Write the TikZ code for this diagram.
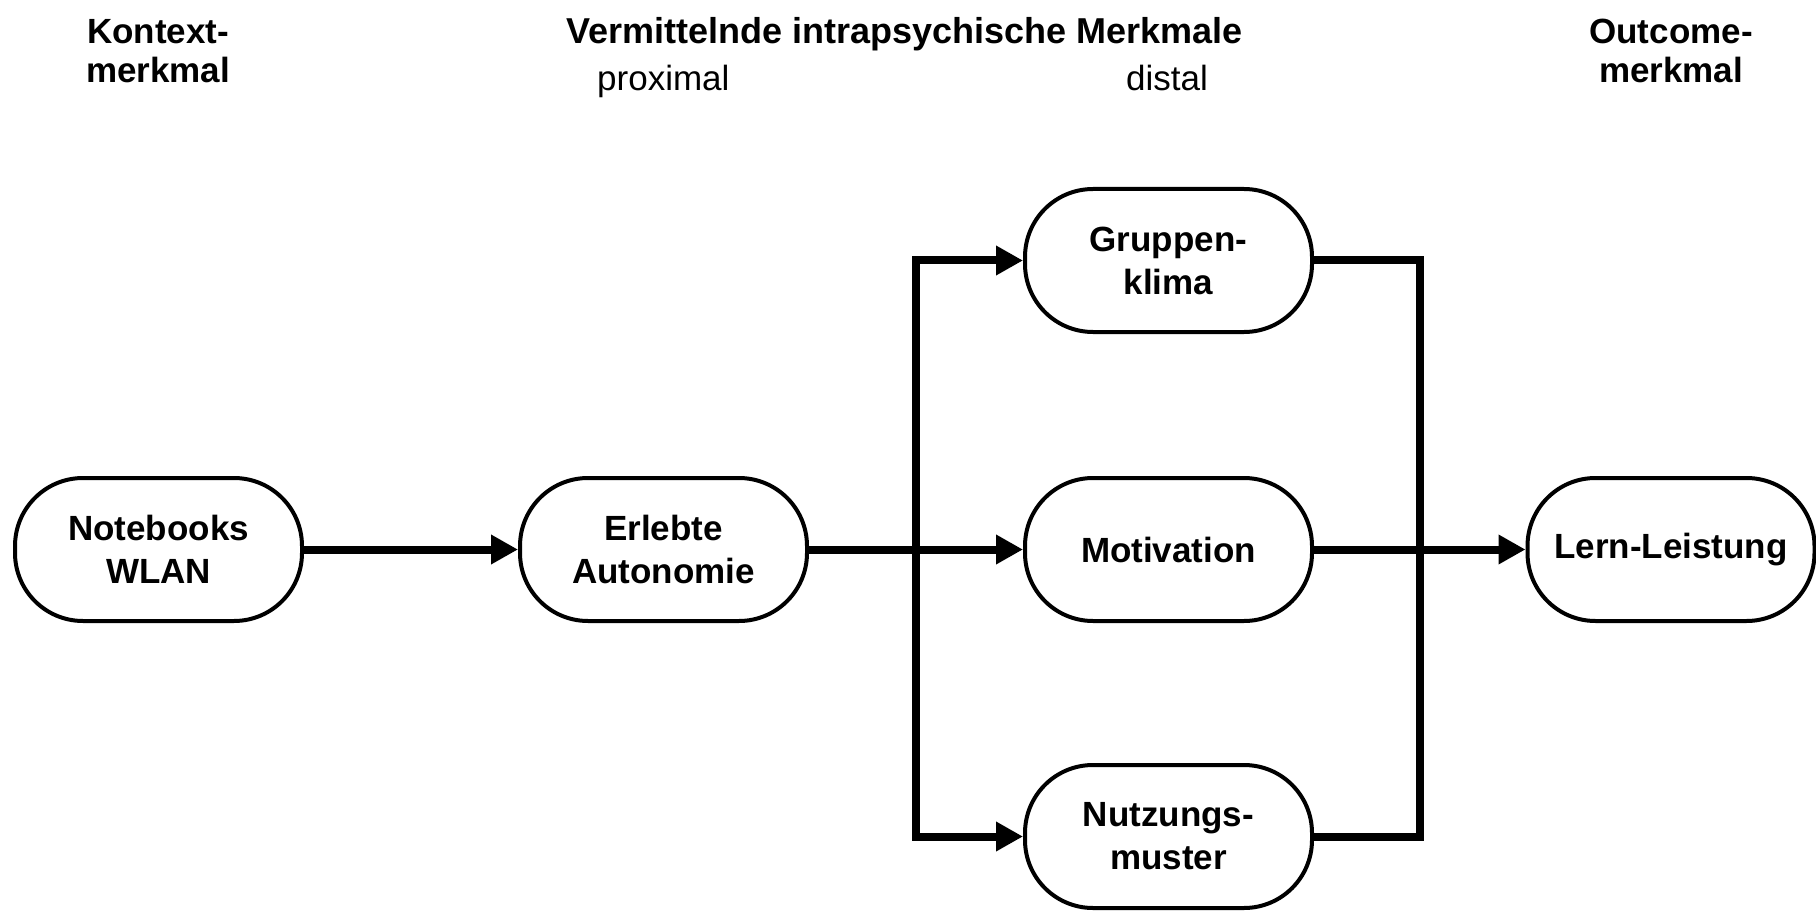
\documentclass[tikz,border=0pt]{standalone}
\usepackage{fontspec}
\setmainfont{Liberation Sans}
\usetikzlibrary{arrows.meta,calc}
\begin{document}
\begin{tikzpicture}[x=1pt,y=-1pt,
  box/.style={draw=black,line width=4pt,rounded corners=68pt,minimum width=287pt,minimum height=143pt,
    align=center,font=\fontsize{35}{43}\selectfont\bfseries,inner sep=0pt},
  conn/.style={draw=black,line width=8pt,line join=miter},
  arr/.style={-{Triangle[length=27pt,width=28pt]}},
  head/.style={font=\fontsize{35}{39}\selectfont\bfseries,align=center,inner sep=0pt},
  sub/.style={font=\fontsize{35}{42}\selectfont,inner sep=0pt}
]
\useasboundingbox (0,0) rectangle (1816,912);
\fill[white] (0,0) rectangle (1816,912);
% headings
\node[head,anchor=north] (hk) at (158,19) {Kontext-\\merkmal};
\node[head,anchor=base west,font=\fontsize{36}{42}\selectfont\bfseries] (hv) at (566,44) {Vermittelnde intrapsychische Merkmale};
\node[head,anchor=north] (ho) at (1671,19) {Outcome-\\merkmal};
\node[sub,anchor=base west] (hp) at (597,91) {proximal};
\node[sub,anchor=base] (hd) at (1167,91) {distal};
% nodes
\node[box] (nb) at (158.5,549.5) {Notebooks\\WLAN};
\node[box] (erl) at (663.5,549.5) {Erlebte\\Autonomie};
\node[box] (grp) at (1168.5,260.5) {Gruppen-\\klima};
\node[box] (mot) at (1168.5,549.5) {Motivation};
\node[box] (nut) at (1168.5,836.5) {Nutzungs-\\muster};
\node[box] (lrn) at (1671,549.5) {Lern-Leistung};
\coordinate (sp) at (916,549.5);
\coordinate (mg) at (1420,549.5);
% connectors
\draw[conn,arr] (nb.east) -- (erl.west);
\draw[conn,arr] (erl.east) -- (mot.west);
\draw[conn,arr] (sp |- nut.west) -- (sp |- grp.west) -- (grp.west);
\draw[conn,arr] (sp |- grp.west) -- (sp |- nut.west) -- (nut.west);
\draw[conn] (grp.east) -- (mg |- grp.east) -- (mg |- nut.east) -- (nut.east);
\draw[conn,arr] (mot.east) -- (lrn.west);
\end{tikzpicture}
\end{document}
